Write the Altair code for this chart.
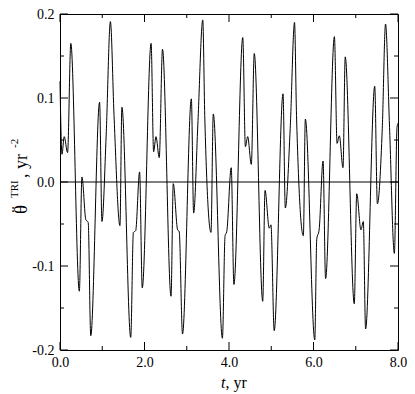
import altair as alt
import pandas as pd

# traced curve
t_vals = [0.0, 0.047, 0.10, 0.179, 0.256, 0.458, 0.519, 0.612, 0.667, 0.728,
          0.937, 0.993, 1.093, 1.193, 1.279, 1.419, 1.465, 1.674, 1.737, 1.791,
          1.884, 1.947, 2.156, 2.216, 2.272, 2.349, 2.426, 2.628, 2.681, 2.784,
          2.821, 2.900, 3.109, 3.163, 3.263, 3.379, 3.426, 3.574, 3.628, 3.844,
          3.907, 3.947, 4.053, 4.116, 4.326, 4.388, 4.442, 4.528, 4.598, 4.798,
          4.853, 4.953, 4.993, 5.070, 5.279, 5.333, 5.449, 5.551, 5.598, 5.760,
          5.807, 6.030, 6.077, 6.133, 6.226, 6.286, 6.495, 6.558, 6.612, 6.698,
          6.751, 6.965, 7.023, 7.123, 7.179, 7.233, 7.449, 7.512, 7.628, 7.705,
          7.80, 7.914, 7.977, 8.0]
acc_vals = [0.12, 0.033, 0.054, 0.035, 0.165, -0.130, 0.006, -0.045, -0.048, -0.183,
            0.095, -0.047, 0.056, 0.191, 0.079, -0.052, 0.089, -0.185, -0.060, -0.058,
            0.012, -0.126, 0.165, 0.036, 0.054, 0.029, 0.158, -0.136, -0.002, -0.057,
            -0.059, -0.181, 0.099, -0.037, 0.069, 0.193, 0.079, -0.060, 0.081, -0.186,
            -0.064, -0.059, 0.017, -0.122, 0.172, 0.042, 0.054, 0.021, 0.153, -0.142,
            -0.010, -0.055, -0.051, -0.177, 0.105, -0.031, 0.064, 0.190, 0.079, -0.064,
            0.075, -0.188, -0.068, -0.057, 0.025, -0.115, 0.173, 0.046, 0.055, 0.017,
            0.149, -0.145, -0.014, -0.057, -0.047, -0.175, 0.114, -0.026, 0.064, 0.188,
            0.065, -0.085, 0.065, 0.07]

x_major = [0, 2, 4, 6, 8]
x_minor = [1, 3, 5, 7]
y_major = [-0.2, -0.1, 0.0, 0.1, 0.2]
y_minor = [-0.15, -0.05, 0.05, 0.15]

W, H = 338, 336
FONT = "Liberation Serif"
MAJ, MIN = 8, 4

xs = alt.Scale(domain=[0, 8], nice=False, zero=False)
ys = alt.Scale(domain=[-0.2, 0.2], nice=False, zero=False)

df = pd.DataFrame({"t": t_vals, "a": acc_vals})

line = alt.Chart(df).mark_line(color="black", strokeWidth=1, interpolate="monotone").encode(
    x=alt.X("t:Q", scale=xs, axis=alt.Axis(
        values=x_major, labelExpr="format(datum.value, '.1f')", ticks=False, domain=False,
        grid=False, labelFont=FONT, labelFontSize=14, labelColor="black",
        labelFlush=False, labelOverlap=False, labelPadding=5, title=None)),
    y=alt.Y("a:Q", scale=ys, axis=alt.Axis(
        values=y_major,
        labelExpr="(datum.value < 0 ? '-' : '') + format(abs(datum.value), '.1f')",
        ticks=False, domain=False, grid=False, labelFont=FONT, labelFontSize=14,
        labelColor="black", labelFlush=False, labelOverlap=False, labelPadding=6,
        title=None)),
)

zero = alt.Chart(pd.DataFrame({"y": [0.0]})).mark_rule(color="black", strokeWidth=1).encode(
    y=alt.Y("y:Q", scale=ys))

def xticks(vals, size):
    d = pd.DataFrame({"x": vals})
    b = alt.Chart(d).mark_rule(color="black", strokeWidth=1).encode(
        x=alt.X("x:Q", scale=xs), y=alt.value(H), y2=alt.value(H - size))
    t = alt.Chart(d).mark_rule(color="black", strokeWidth=1).encode(
        x=alt.X("x:Q", scale=xs), y=alt.value(0), y2=alt.value(size))
    return [b, t]

def yticks(vals, size):
    d = pd.DataFrame({"y": vals})
    l = alt.Chart(d).mark_rule(color="black", strokeWidth=1).encode(
        y=alt.Y("y:Q", scale=ys), x=alt.value(0), x2=alt.value(size))
    r = alt.Chart(d).mark_rule(color="black", strokeWidth=1).encode(
        y=alt.Y("y:Q", scale=ys), x=alt.value(W), x2=alt.value(W - size))
    return [l, r]

ticks = xticks(x_major, MAJ) + xticks(x_minor, MIN) + yticks(y_major, MAJ) + yticks(y_minor, MIN)

def label(txt, x, y, size, style="normal", angle=0):
    return alt.Chart(pd.DataFrame({"s": [txt]})).mark_text(
        font=FONT, fontSize=size, fontStyle=style, color="black", align="left",
        baseline="alphabetic", angle=angle).encode(
        text="s:N", x=alt.value(x), y=alt.value(y))

titles = [
    label("t", 161, 374, 16, style="italic"),
    label(", yr", 165.5, 374, 16),
    label("\u03b8", -33, 200, 19, angle=270),
    label("\u00a8", -36.5, 198.5, 18, angle=270),
    label("TRI", -42, 184, 11, angle=270),
    label(", yr", -33, 164, 18, angle=270),
    label("-2", -42, 134, 11, angle=270),
]

chart = alt.layer(zero, line, *ticks, *titles).properties(
    width=W, height=H,
    autosize="none",
    padding={"left": 52, "top": 6, "right": 9, "bottom": 44},
).configure_view(stroke="black", strokeWidth=1)

chart.save("out.html", embed_options={"renderer": "svg", "actions": False})
